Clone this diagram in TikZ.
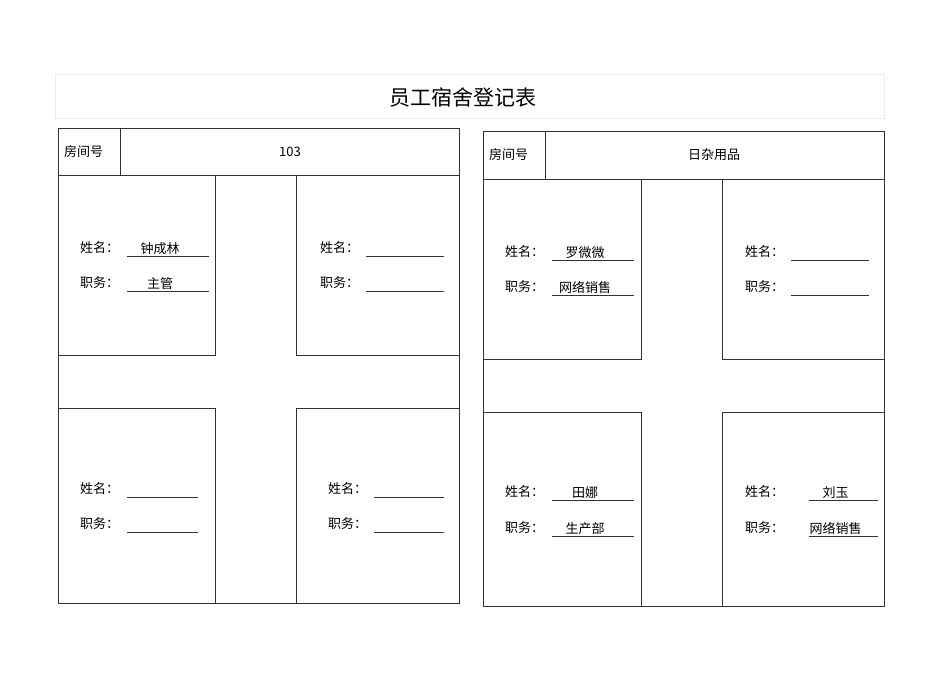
\documentclass[tikz,border=0pt]{standalone}
\usepackage{fontspec}
\setmainfont{Noto Sans CJK SC}
\begin{document}
\begin{tikzpicture}[x=1pt,y=-1pt,
  box/.style={draw=black!80,line width=0.7pt},
  lbl/.style={font=\fontsize{13}{13}\selectfont,anchor=west,inner sep=0pt},
  val/.style={font=\fontsize{13}{13}\selectfont,inner sep=0pt,anchor=base},
  uline/.style={draw=black!80,line width=0.6pt}]
\useasboundingbox (0,0) rectangle (950,672);
\node[draw=black!8,minimum width=829pt,minimum height=44pt,anchor=north west,inner sep=0pt] (tb) at (55,74) {};
\node[font=\fontsize{21}{21}\selectfont] (title) at (463,97) {员工宿舍登记表};
% left table
\draw[box] (58,128) rectangle (459,603);
\draw[box] (58,175) -- (459,175);
\draw[box] (120,128) -- (120,175);
\node[lbl] (l0) at (64,152) {房间号};
\node[font=\fontsize{13}{13}\selectfont] (l1) at (290,152) {103};
\draw[box] (58,175) rectangle (215,355);
\draw[box] (296,175) rectangle (459,355);
\draw[box] (58,408) rectangle (215,603);
\draw[box] (296,408) rectangle (459,603);
% right table
\draw[box] (483,131) rectangle (884,606);
\draw[box] (483,179) -- (884,179);
\draw[box] (545,131) -- (545,179);
\node[lbl] (r0) at (489,155) {房间号};
\node[font=\fontsize{13}{13}\selectfont] (r1) at (714,155) {日杂用品};
\draw[box] (483,179) rectangle (641,359);
\draw[box] (722,179) rectangle (884,359);
\draw[box] (483,412) rectangle (641,606);
\draw[box] (722,412) rectangle (884,606);
% fields: label x, y1, y2, line x1, x2, name, job
\foreach \lx/\ya/\yb/\ua/\ub/\nm/\jb in {
  80/248/283/127/209/钟成林/主管,
  320/248/283/366/444//,
  80/489/524/127/198//,
  328/489/524/374/444//,
  505/252/287/552/634/罗微微/网络销售,
  745/252/287/791/869//,
  505/492/528/552/634/田娜/生产部,
  745/492/528/809/878/刘玉/网络销售}{
  \node[lbl] at (\lx,\ya) {姓名：};
  \node[lbl] at (\lx,\yb) {职务：};
  \draw[uline] (\ua,\ya+8) -- (\ub,\ya+8);
  \draw[uline] (\ua,\yb+8) -- (\ub,\yb+8);
  \node[val] at ({(\ua+\ub)/2-8},\ya+5) {\nm};
  \node[val] at ({(\ua+\ub)/2-8},\yb+5) {\jb};
}
\end{tikzpicture}
\end{document}
